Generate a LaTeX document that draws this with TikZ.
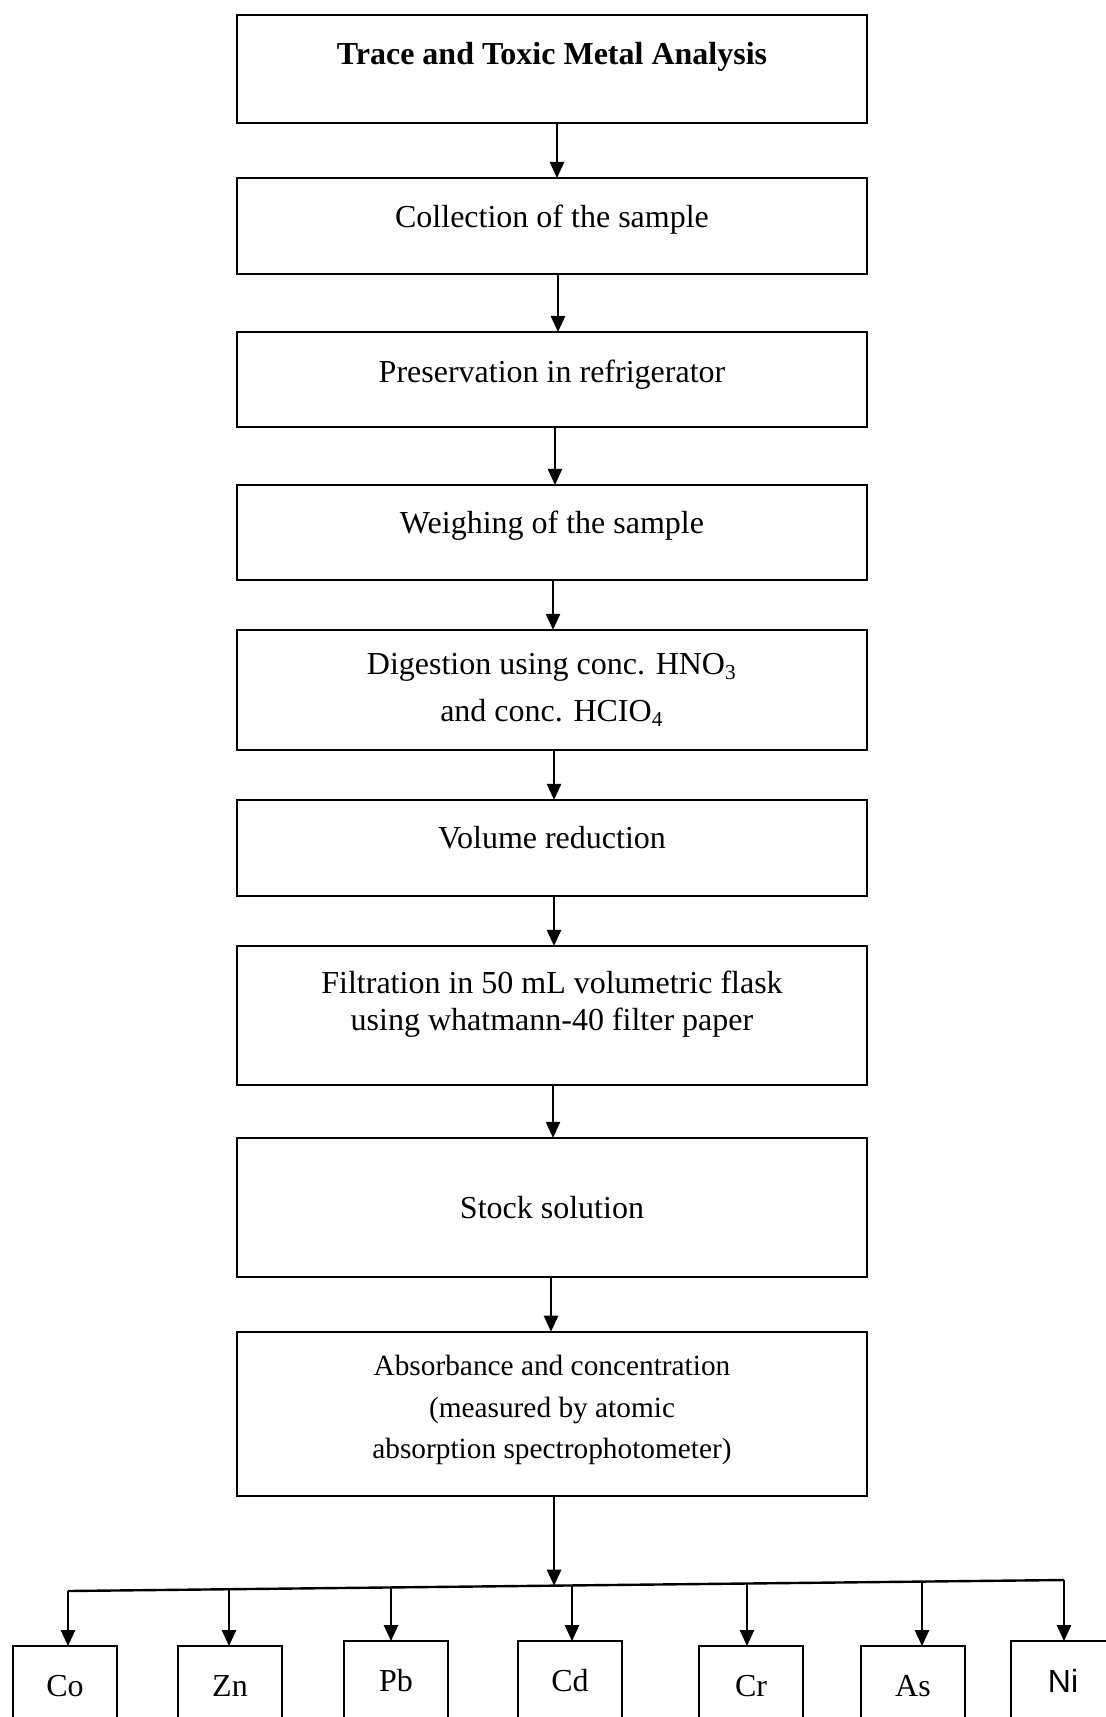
\documentclass[tikz,border=0pt]{standalone}
\usepackage{fontspec}
\setmainfont{Liberation Serif}
\setsansfont{Liberation Sans}
\usetikzlibrary{arrows.meta,positioning,calc}

\begin{document}
\begin{tikzpicture}[
  x=0.375pt, y=-0.375pt,
  font=\fontsize{12}{14}\selectfont,
  >={Triangle[length=6pt, width=5.4pt]},
  box/.style={draw, line width=0.75pt, inner sep=0pt, outer sep=0pt, align=center, minimum width=236.6pt},
  elem/.style={draw, line width=0.75pt, inner sep=0pt, outer sep=0pt, minimum width=39pt, minimum height=30pt, anchor=north},
  arr/.style={->, line width=0.55pt},
  bus/.style={line width=0.9pt}
]
\useasboundingbox (0,0) rectangle (1106,1717);
\clip (0,0) rectangle (1106,1717);

\node[box, minimum height=40.5pt, text depth=11.4pt, font=\fontsize{12}{14}\selectfont\bfseries] (trace) at (552,69) {Trace and Toxic Metal Analysis};
\node[box, minimum height=36pt, text depth=7.5pt, below=20.6pt of trace] (collect) {Collection of the sample};
\node[box, minimum height=35.6pt, text depth=6pt, below=21.75pt of collect] (preserve) {Preservation in refrigerator};
\node[box, minimum height=35.6pt, text depth=7.5pt, below=21.75pt of preserve] (weigh) {Weighing of the sample};
\node[box, minimum height=45pt, font=\fontsize{12}{17.6}\selectfont, below=18.75pt of weigh] (digest) {Digestion using conc. HNO\textsubscript{3}\\and conc. HCIO\textsubscript{4}};
\node[box, minimum height=36pt, text depth=7.5pt, below=18.75pt of digest] (volume) {Volume reduction};
\node[box, minimum height=52.1pt, text depth=11pt, below=18.75pt of volume] (filter) {Filtration in 50 mL volumetric flask\\using whatmann-40 filter paper};
\node[box, minimum height=52.1pt, below=19.9pt of filter] (stock) {Stock solution};
\node[box, minimum height=61.5pt, text depth=5pt, font=\fontsize{11}{15.6}\selectfont, below=20.6pt of stock] (absorb) {Absorbance and concentration\\(measured by atomic\\absorption spectrophotometer)};
\foreach \a/\b/\dx in {trace/collect/5, collect/preserve/6, preserve/weigh/3, weigh/digest/1, digest/volume/2, volume/filter/2, filter/stock/1, stock/absorb/-1}
  \draw[arr] ($(\a.south)+(\dx,0)$) -- ($(\b.north)+(\dx,0)$);

% branching line to the metals
\coordinate (busL) at (68,1591);
\coordinate (busR) at (1064,1580);
\draw[bus] (busL) -- (busR);
\coordinate (hub) at ($(busL)!0.488!(busR)$);
\draw[arr] (absorb.south -| hub) -- (hub);
\foreach \n/\x/\ax/\top/\f in {Co/65/68/1646/\rmfamily, Zn/230/229/1646/\rmfamily, Pb/396/391/1641/\rmfamily, Cd/570/572/1641/\rmfamily, Cr/751/747/1646/\rmfamily, As/913/922/1646/\rmfamily, Ni/1063/1064/1641/\sffamily} {
  \pgfmathsetmacro\t{(\ax-68)/996}
  \node[elem, font=\fontsize{12}{14}\selectfont\f] (\n) at (\x,\top) {\n};
  \coordinate (drop\n) at ($(busL)!\t!(busR)$);
  \draw[arr] (drop\n) -- (drop\n |- \n.north);
}
\end{tikzpicture}
\end{document}
